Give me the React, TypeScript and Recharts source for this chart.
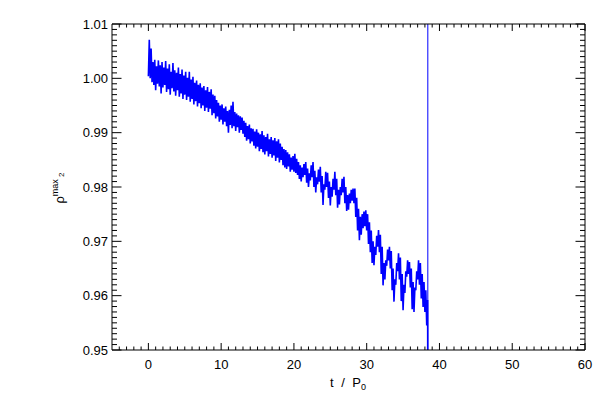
import React from "react";
import { LineChart, Line, XAxis, YAxis } from "recharts";

// sampling step of the envelope readings (in t / P0)
const T_STEP = 0.25;

// lower edge of the noisy band, read every 0.25 from t = 0
const pLow = [
  1.0004, 1.0, 0.9993, 0.9988, 0.9978, 0.999, 0.9985, 0.9972,
  0.9983, 0.9988, 0.9975, 0.998, 0.997, 0.9982, 0.9976, 0.9968,
  0.9978, 0.9966, 0.9972, 0.9962, 0.997, 0.996, 0.9966, 0.9957,
  0.9962, 0.9952, 0.9958, 0.9948, 0.9954, 0.9945, 0.995, 0.994,
  0.9946, 0.9938, 0.9944, 0.9932, 0.9936, 0.9926, 0.993, 0.992,
  0.9924, 0.9915, 0.992, 0.9912, 0.99, 0.9914, 0.9908, 0.9912,
  0.9903, 0.991, 0.99, 0.9905, 0.9898, 0.9892, 0.9885, 0.9888,
  0.988, 0.9884, 0.9876, 0.9871, 0.9874, 0.9866, 0.987, 0.9864,
  0.986, 0.9866, 0.9856, 0.9861, 0.9854, 0.9858, 0.9848, 0.9854,
  0.9845, 0.985, 0.984, 0.9836, 0.9833, 0.9838, 0.9828, 0.9832,
  0.9828, 0.9826, 0.9822, 0.9815, 0.981, 0.9818, 0.9822, 0.9808,
  0.98, 0.9812, 0.9818, 0.98, 0.979, 0.9805, 0.981, 0.979,
  0.9767, 0.9795, 0.98, 0.978, 0.9766, 0.9782, 0.9795, 0.9785,
  0.9762, 0.9768, 0.9785, 0.979, 0.977, 0.9756, 0.9758, 0.977,
  0.9775, 0.977, 0.9745, 0.972, 0.9702, 0.9712, 0.9724, 0.9728,
  0.972, 0.9695, 0.968, 0.966, 0.9656, 0.9675, 0.969, 0.968,
  0.964, 0.9619, 0.963, 0.9655, 0.9665, 0.965, 0.961, 0.9589,
  0.962, 0.9645, 0.963, 0.959, 0.9573, 0.9605, 0.9635, 0.964,
  0.9615, 0.9575, 0.957, 0.961, 0.963, 0.962, 0.9595, 0.9579,
  0.957, 0.9545,
];

// upper edge of the noisy band, same sampling
const pHigh = [
  1.0071, 1.0055, 1.003, 1.0034, 1.0022, 1.0033, 1.0024, 1.003,
  1.002, 1.0032, 1.0018, 1.0026, 1.0012, 1.0028, 1.0015, 1.001,
  1.002, 1.0008, 1.0016, 1.0005, 1.0012, 1.0001, 1.0012, 0.9998,
  1.0003, 0.9992, 0.9996, 0.9988, 0.9991, 0.9983, 0.9986, 0.9978,
  0.9984, 0.9975, 0.998, 0.997, 0.9968, 0.996, 0.9955, 0.995,
  0.9952, 0.9945, 0.9948, 0.994, 0.9942, 0.995, 0.9957, 0.9938,
  0.9935, 0.9932, 0.993, 0.9928, 0.9922, 0.9918, 0.9912, 0.9915,
  0.9908, 0.9907, 0.9902, 0.9906, 0.99, 0.9897, 0.9903, 0.9895,
  0.9892, 0.9898, 0.9888, 0.9892, 0.9886, 0.989, 0.9884, 0.9888,
  0.988, 0.9874, 0.987, 0.9868, 0.9864, 0.986, 0.9854, 0.9857,
  0.9861, 0.9852, 0.9846, 0.984, 0.9836, 0.9842, 0.9846, 0.9834,
  0.9825, 0.984, 0.9846, 0.983, 0.9818, 0.9832, 0.9837, 0.982,
  0.9805, 0.9828, 0.9826, 0.981, 0.98, 0.9815, 0.9828, 0.9815,
  0.9795, 0.98, 0.9815, 0.9819, 0.98, 0.9785, 0.9788, 0.9795,
  0.9797, 0.9797, 0.978, 0.976, 0.9745, 0.975, 0.9755, 0.9757,
  0.975, 0.9735, 0.972, 0.97, 0.969, 0.971, 0.9721, 0.9712,
  0.969, 0.966, 0.9665, 0.9685, 0.969, 0.9682, 0.965, 0.963,
  0.966, 0.9678, 0.967, 0.964, 0.962, 0.9645, 0.9665, 0.9662,
  0.965, 0.9625, 0.9615, 0.9645, 0.9665, 0.966, 0.964, 0.9625,
  0.961, 0.9592,
];

// the run ends with a drop below the frame and a jump past the top
const blowupT = [38.4, 38.4];
const blowupP = [0.94, 1.02];

const xMajor = [0, 10, 20, 30, 40, 50, 60];
const yMajor = [0.95, 0.96, 0.97, 0.98, 0.99, 1.0, 1.01];
const yLabels = ["0.95", "0.96", "0.97", "0.98", "0.99", "1.00", "1.01"];

const xTicks: number[] = [];
for (let v = -4; v <= 60; v++) xTicks.push(v);
const yTicks: number[] = [];
for (let i = 0; i <= 60; i++) yTicks.push((950 + i) / 1000);

const bandData: { t: number; p: number }[] = [];
pLow.forEach((lo, i) => {
  const t = i * T_STEP;
  bandData.push({ t, p: lo });
  bandData.push({ t: t + T_STEP / 2, p: pHigh[i] });
});
bandData.push({ t: blowupT[0], p: blowupP[0] });
const blowupData = blowupT.map((t, i) => ({ t, p: blowupP[i] }));

const FONT = "'Liberation Sans', Arial, sans-serif";
const isXMajor = (v: number) => xMajor.includes(v);
const yMajorIdx = (v: number) => yMajor.findIndex((m) => Math.abs(m - v) < 1e-6);

const BottomTick = ({ x, y, payload }: any) => {
  const major = isXMajor(payload.value);
  return (
    <g>
      <line x1={x} x2={x} y1={y} y2={y - (major ? 7 : 3.5)} stroke="#000" />
      {major && (
        <text x={x} y={y + 19} textAnchor="middle" fontSize={13} fontFamily={FONT} fill="#000">
          {payload.value}
        </text>
      )}
    </g>
  );
};

const TopTick = ({ x, y, payload }: any) => {
  const major = isXMajor(payload.value);
  return <line x1={x} x2={x} y1={y} y2={y + (major ? 7 : 3.5)} stroke="#000" />;
};

const LeftTick = ({ x, y, payload }: any) => {
  const idx = yMajorIdx(payload.value);
  return (
    <g>
      <line x1={x} x2={x + (idx >= 0 ? 9.5 : 5)} y1={y} y2={y} stroke="#000" />
      {idx >= 0 && (
        <text x={x - 4} y={y + 4.5} textAnchor="end" fontSize={13} fontFamily={FONT} fill="#000">
          {yLabels[idx]}
        </text>
      )}
    </g>
  );
};

const RightTick = ({ x, y, payload }: any) => {
  const idx = yMajorIdx(payload.value);
  return <line x1={x} x2={x - (idx >= 0 ? 9.5 : 5)} y1={y} y2={y} stroke="#000" />;
};

export default function App() {
  return (
    <div style={{ position: "absolute", left: 0, top: 0, width: 600, height: 400, background: "#fff" }}>
      <LineChart width={600} height={400} margin={{ top: 23, right: 14, bottom: 0, left: 52 }}>
        <XAxis
          xAxisId="b"
          dataKey="t"
          type="number"
          domain={[-5, 60]}
          allowDataOverflow
          ticks={xTicks}
          interval={0}
          height={50}
          tickSize={0}
          tickMargin={0}
          tickLine={false}
          axisLine={{ stroke: "#000" }}
          tick={<BottomTick />}
        />
        <XAxis
          xAxisId="t"
          dataKey="t"
          type="number"
          orientation="top"
          domain={[-5, 60]}
          allowDataOverflow
          ticks={xTicks}
          interval={0}
          height={1}
          tickSize={0}
          tickMargin={0}
          tickLine={false}
          axisLine={{ stroke: "#000" }}
          tick={<TopTick />}
        />
        <YAxis
          yAxisId="l"
          type="number"
          domain={[0.95, 1.01]}
          allowDataOverflow
          ticks={yTicks}
          interval={0}
          width={60}
          tickSize={0}
          tickMargin={0}
          tickLine={false}
          axisLine={{ stroke: "#000" }}
          tick={<LeftTick />}
        />
        <YAxis
          yAxisId="r"
          orientation="right"
          type="number"
          domain={[0.95, 1.01]}
          allowDataOverflow
          ticks={yTicks}
          interval={0}
          width={1}
          tickSize={0}
          tickMargin={0}
          tickLine={false}
          axisLine={{ stroke: "#000" }}
          tick={<RightTick />}
        />
        <Line
          xAxisId="b"
          yAxisId="l"
          data={bandData}
          dataKey="p"
          type="linear"
          stroke="#0000ff"
          strokeWidth={1.6}
          strokeLinejoin="miter"
          dot={false}
          isAnimationActive={false}
        />
        <Line
          xAxisId="b"
          yAxisId="l"
          data={blowupData}
          dataKey="p"
          type="linear"
          stroke="#0000ff"
          strokeWidth={1}
          dot={false}
          isAnimationActive={false}
        />
      </LineChart>
      <svg width={600} height={400} style={{ position: "absolute", left: 0, top: 0, pointerEvents: "none" }}>
        <text x={348} y={387} textAnchor="middle" fontSize={13} fontFamily={FONT} wordSpacing={4} fill="#000">
          t / P
          <tspan fontSize={9} dy={3}>0</tspan>
        </text>
        <text transform="translate(64,188) rotate(-90)" textAnchor="middle" fontSize={13} fontFamily={FONT} fill="#000">
          ρ
          <tspan fontSize={9} dy={-6}>max</tspan>
          <tspan fontSize={8} dy={6}> 2</tspan>
        </text>
      </svg>
    </div>
  );
}
